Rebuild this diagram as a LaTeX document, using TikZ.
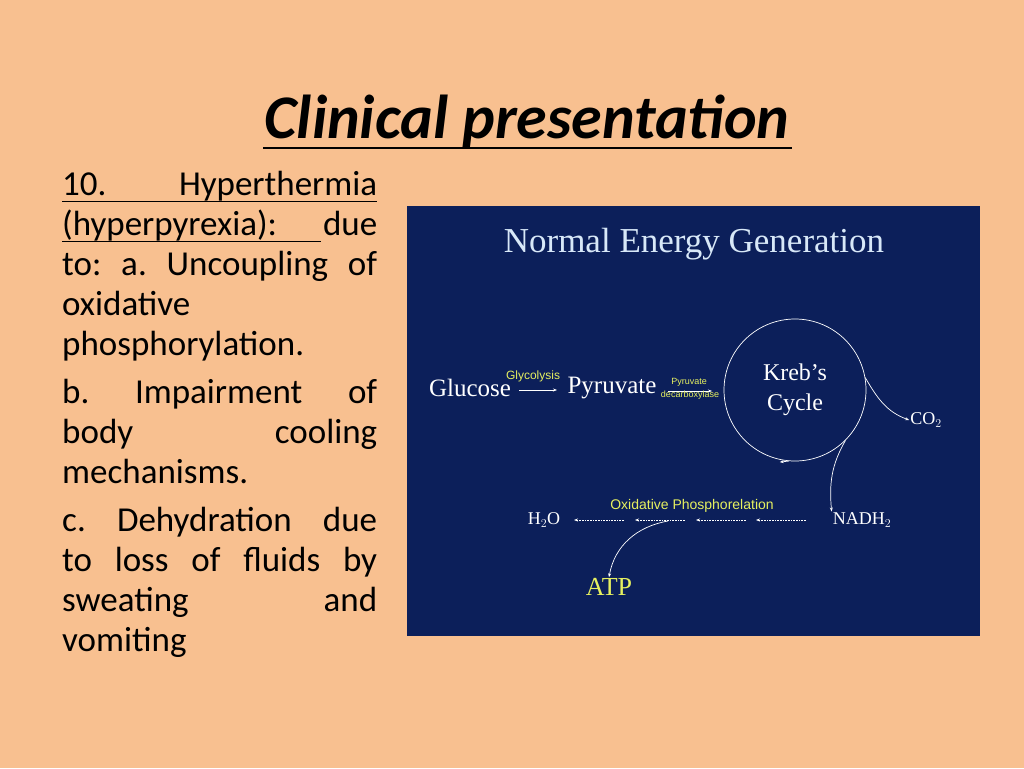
\documentclass[tikz,border=0pt]{standalone}
\usepackage{fontspec}
\setmainfont{Carlito}
\newfontfamily\tnr{Liberation Serif}
\newfontfamily\arl{Liberation Sans}
\usetikzlibrary{arrows.meta}
\definecolor{slide}{HTML}{F8C090}
\definecolor{panel}{HTML}{0C1F5A}
\definecolor{hilite}{HTML}{E6F060}
\definecolor{pale}{HTML}{D8E8F8}
\tikzset{
  bodyline/.style={anchor=base west, inner sep=0pt, text width=315pt, font=\fontsize{35}{40}\selectfont},
  chem/.style={white, inner sep=1pt, font=\tnr\fontsize{25}{30}\selectfont},
  chemsmall/.style={white, inner sep=1pt, font=\tnr\fontsize{18}{20}\selectfont},
  enzyme/.style={hilite, inner sep=0pt, font=\arl\fontsize{12}{14}\selectfont},
  flow/.style={white, -{Stealth[length=4pt]}, line width=0.7pt},
  dotflow/.style={white, densely dotted, -{Stealth[length=4pt]}, line width=0.6pt}
}
\begin{document}
\begin{tikzpicture}[x=1pt, y=-1pt]
\fill[slide] (0,0) rectangle (1024,768);

% ----- Title -----
\node (title) at (527,122) {\fontsize{62}{70}\selectfont\bfseries\itshape Clinical presentation};
\draw[line width=1.8pt] (263,148) -- (792,148);

% ----- Left text -----
\node[bodyline] (l1) at (62,195) {10.\hfill Hyperthermia};
\node[bodyline] (l2) at (62,235) {(hyperpyrexia):\hfill due};
\node[bodyline] (l3) at (62,275) {to:\hfill a.\hfill Uncoupling\hfill of};
\node[bodyline] (l4) at (62,315) {oxidative};
\node[bodyline] (l5) at (62,355) {phosphorylation.};
\node[bodyline] (l6) at (62,403) {b.\hfill Impairment\hfill of};
\node[bodyline] (l7) at (62,443) {body\hfill cooling};
\node[bodyline] (l8) at (62,483) {mechanisms.};
\node[bodyline] (l9) at (62,531) {c.\hfill Dehydration\hfill due};
\node[bodyline] (l10) at (62,571) {to\hfill loss\hfill of\hfill fluids\hfill by};
\node[bodyline] (l11) at (62,611) {sweating\hfill and};
\node[bodyline] (l12) at (62,651) {vomiting};
\draw[line width=1pt] (62,201) -- (377,201);
\draw[line width=1pt] (62,241) -- (321,241);

% ----- Panel -----
\fill[panel] (407,206) rectangle (980,636);
\node[pale, font=\tnr\fontsize{35}{40}\selectfont] (ptitle) at (694,244) {Normal Energy Generation};

\node[chem] (glucose) at (470,388) {Glucose};
\node[chem] (pyruvate) at (612,388) {Pyruvate};
\coordinate (g1) at (519,390);
\coordinate (g2) at (557,390);
\draw[flow] (g1) -- (g2);
\node[enzyme] (glyco) at (533,376) {Glycolysis};
\coordinate (p1) at (668,391);
\coordinate (p2) at (712,391);
\draw[flow] (p1) -- (p2);
\node[enzyme, font=\arl\fontsize{9}{10}\selectfont] (pdh1) at (689,382) {Pyruvate};
\node[enzyme, font=\arl\fontsize{9}{10}\selectfont] (pdh2) at (690,395) {decarboxylase};

\node[draw=white, line width=0.7pt, circle, minimum size=142pt, inner sep=0pt] (kreb) at (795,390) {};
\node[chem, align=center, font=\tnr\fontsize{24}{30}\selectfont] (krebtext) at (795,390) {Kreb’s\\Cycle};
\draw[flow] (kreb.-95) -- ++(-9,1);

\node[chemsmall] (co2) at (926,420) {CO$_2$};
\node[chemsmall] (nadh) at (862,520) {NADH$_2$};
\node[chemsmall] (h2o) at (544,520) {H$_2$O};
\draw[flow] (kreb.10) to[out=-60, in=160] (co2.west);
\draw[flow] (kreb.-45) to[out=-120, in=95] (nadh.north west);

\coordinate (d1) at (806,520);
\coordinate (d2) at (756,520);
\coordinate (d3) at (746,520);
\coordinate (d4) at (696,520);
\coordinate (d5) at (685,520);
\coordinate (d6) at (635,520);
\coordinate (d7) at (624,520);
\coordinate (d8) at (574,520);
\draw[dotflow] (d1) -- (d2);
\draw[dotflow] (d3) -- (d4);
\draw[dotflow] (d5) -- (d6);
\draw[dotflow] (d7) -- (d8);
\node[enzyme, font=\arl\fontsize{14}{16}\selectfont] (oxphos) at (692,506) {Oxidative Phosphorelation};

\node[hilite, inner sep=1pt, font=\tnr\fontsize{26}{30}\selectfont] (atp) at (609,587) {ATP};
\coordinate (a1) at (668,521);
\draw[flow] (a1) to[out=190, in=80] (atp.north);
\end{tikzpicture}
\end{document}
